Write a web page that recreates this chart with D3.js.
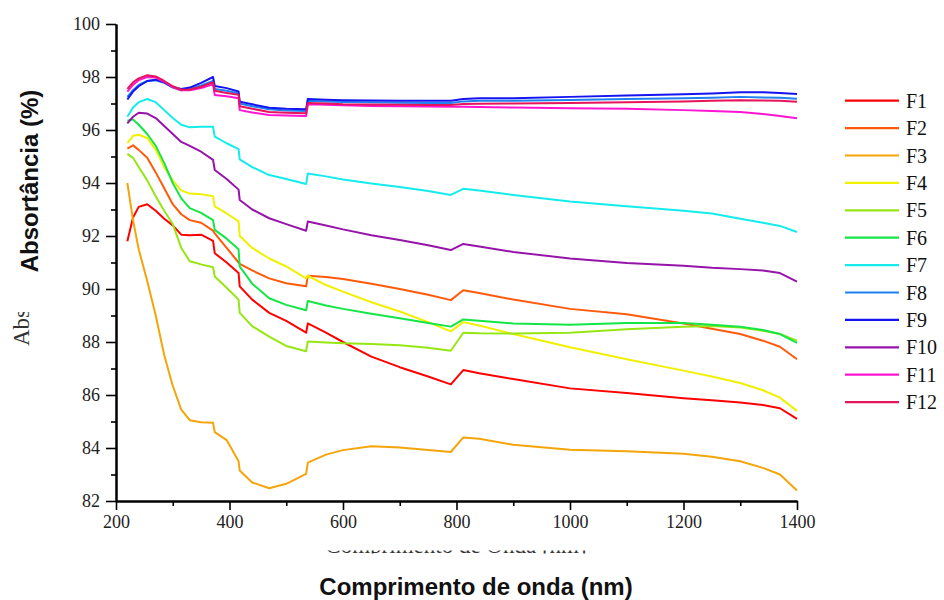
<!DOCTYPE html>
<html>
<head>
<meta charset="utf-8">
<script src="https://cdn.jsdelivr.net/npm/d3@7"></script>
<style>
  body { margin: 0; background: #fff; }
  svg { display: block; }
  .serif { font-family: "Liberation Serif", "Times New Roman", Times, serif; }
</style>
</head>
<body>
<div id="chart"></div>
<script>
// wavelength grid (nm) shared by all series
const wavelengths = [220, 230, 240, 255, 270, 285, 300, 315, 330, 350, 371, 374, 395, 416, 418, 440, 470, 500, 535, 538, 570, 600, 650, 700, 750, 790, 812, 840, 900, 1000, 1100, 1200, 1250, 1300, 1340, 1370, 1400];

const seriesNames = ["F1", "F2", "F3", "F4", "F5", "F6", "F7", "F8", "F9", "F10", "F11", "F12"];
const seriesColors = ["#ff0000", "#ff5a0a", "#f5a50a", "#f0f000", "#96e614", "#14e646", "#14ecec", "#1e82f0", "#1414f0", "#9614aa", "#ff14d2", "#e6145a"];

const f1 = [91.8, 92.7, 93.1, 93.2, 92.95, 92.65, 92.4, 92.05, 92.03, 92.05, 91.82, 91.35, 91.0, 90.6, 90.1, 89.6, 89.1, 88.8, 88.35, 88.7, 88.35, 88.0, 87.45, 87.05, 86.7, 86.4, 86.94, 86.82, 86.6, 86.25, 86.08, 85.88, 85.8, 85.72, 85.62, 85.5, 85.1];
const f2 = [95.3, 95.42, 95.25, 94.95, 94.4, 93.8, 93.2, 92.82, 92.6, 92.5, 92.2, 92.1, 91.55, 91.0, 90.95, 90.7, 90.4, 90.22, 90.1, 90.5, 90.45, 90.38, 90.2, 90.0, 89.78, 89.58, 89.95, 89.85, 89.6, 89.25, 89.05, 88.7, 88.5, 88.3, 88.05, 87.82, 87.35];
const f3 = [94.0, 92.6, 91.5, 90.3, 89.0, 87.5, 86.35, 85.45, 85.05, 84.97, 84.95, 84.6, 84.3, 83.5, 83.15, 82.7, 82.48, 82.65, 83.02, 83.45, 83.75, 83.92, 84.07, 84.02, 83.92, 83.85, 84.4, 84.35, 84.12, 83.93, 83.88, 83.78, 83.67, 83.5, 83.25, 83.0, 82.4];
const f4 = [95.5, 95.78, 95.82, 95.7, 95.25, 94.6, 94.1, 93.72, 93.6, 93.58, 93.5, 93.12, 92.85, 92.55, 92.0, 91.55, 91.15, 90.85, 90.4, 90.5, 90.15, 89.9, 89.5, 89.15, 88.75, 88.4, 88.75, 88.62, 88.3, 87.8, 87.35, 86.92, 86.7, 86.45, 86.18, 85.9, 85.4];
const f5 = [95.1, 94.95, 94.6, 94.1, 93.5, 92.95, 92.45, 91.55, 91.05, 90.93, 90.82, 90.47, 90.05, 89.6, 89.1, 88.6, 88.2, 87.85, 87.65, 88.02, 87.98, 87.95, 87.92, 87.88, 87.78, 87.67, 88.35, 88.33, 88.32, 88.35, 88.48, 88.58, 88.6, 88.55, 88.42, 88.3, 88.05];
const f6 = [96.35, 96.4, 96.2, 95.85, 95.4, 94.75, 94.0, 93.42, 93.05, 92.87, 92.6, 92.23, 91.9, 91.5, 90.85, 90.2, 89.65, 89.4, 89.2, 89.55, 89.38, 89.25, 89.07, 88.9, 88.72, 88.58, 88.85, 88.8, 88.7, 88.65, 88.72, 88.72, 88.65, 88.58, 88.45, 88.3, 87.97];
const f7 = [96.5, 96.85, 97.05, 97.17, 97.05, 96.75, 96.45, 96.2, 96.1, 96.12, 96.12, 95.75, 95.5, 95.28, 94.89, 94.6, 94.3, 94.15, 93.96, 94.36, 94.25, 94.13, 93.98, 93.85, 93.7, 93.55, 93.78, 93.72, 93.55, 93.3, 93.12, 92.95, 92.85, 92.65, 92.5, 92.38, 92.15];
const f8 = [97.25, 97.5, 97.7, 97.85, 97.88, 97.78, 97.6, 97.5, 97.55, 97.68, 97.85, 97.55, 97.48, 97.38, 97.0, 96.9, 96.78, 96.74, 96.72, 97.1, 97.08, 97.06, 97.05, 97.03, 97.02, 97.02, 97.08, 97.1, 97.1, 97.13, 97.17, 97.2, 97.22, 97.25, 97.23, 97.22, 97.18];
const f9 = [97.15, 97.45, 97.65, 97.85, 97.9, 97.8, 97.62, 97.55, 97.6, 97.78, 98.0, 97.66, 97.58, 97.45, 97.07, 96.97, 96.84, 96.8, 96.78, 97.17, 97.14, 97.12, 97.11, 97.1, 97.1, 97.1, 97.17, 97.2, 97.2, 97.25, 97.3, 97.35, 97.38, 97.42, 97.42, 97.4, 97.36];
const f10 = [96.25, 96.5, 96.65, 96.62, 96.45, 96.15, 95.85, 95.55, 95.4, 95.18, 94.87, 94.49, 94.15, 93.75, 93.36, 93.0, 92.67, 92.45, 92.2, 92.55, 92.4, 92.25, 92.03, 91.85, 91.65, 91.47, 91.7, 91.6, 91.4, 91.15, 90.98, 90.88, 90.8, 90.75, 90.7, 90.6, 90.28];
const f11 = [97.45, 97.7, 97.88, 98.0, 97.98, 97.82, 97.62, 97.5, 97.5, 97.58, 97.72, 97.32, 97.27, 97.2, 96.75, 96.66, 96.57, 96.55, 96.53, 96.97, 96.95, 96.93, 96.91, 96.9, 96.89, 96.88, 96.88, 96.87, 96.85, 96.82, 96.8, 96.75, 96.72, 96.68, 96.6, 96.53, 96.44];
const f12 = [97.55, 97.8, 97.95, 98.07, 98.02, 97.85, 97.65, 97.52, 97.53, 97.63, 97.8, 97.48, 97.4, 97.33, 96.9, 96.8, 96.68, 96.65, 96.63, 97.02, 97.0, 96.97, 96.96, 96.95, 96.94, 96.94, 96.98, 96.99, 97.0, 97.02, 97.05, 97.08, 97.1, 97.12, 97.11, 97.1, 97.07];

const allSeries = [f1, f2, f3, f4, f5, f6, f7, f8, f9, f10, f11, f12];

const xMajorTicks = [200, 400, 600, 800, 1000, 1200, 1400];
const xMinorTicks = [300, 500, 700, 900, 1100, 1300];
const yMajorTicks = [82, 84, 86, 88, 90, 92, 94, 96, 98, 100];
const yMinorTicks = [83, 85, 87, 89, 91, 93, 95, 97, 99];

const width = 944, height = 600;
const plotLeft = 116, plotRight = 797, plotTop = 24, plotBottom = 501;
const sans = "Liberation Sans, Arial, sans-serif";

const svg = d3.select("#chart").append("svg")
    .attr("width", width)
    .attr("height", height);

const x = d3.scaleLinear().domain([200, 1400]).range([plotLeft, plotRight]);
const y = d3.scaleLinear().domain([82, 100]).range([plotBottom, plotTop]);

// old titles of the figure, mostly covered, only small parts still show
const defs = svg.append("defs");
defs.append("clipPath").attr("id", "clipY")
    .append("rect").attr("x", 0).attr("y", 312).attr("width", 60).attr("height", 40);
defs.append("clipPath").attr("id", "clipX")
    .append("rect").attr("x", 200).attr("y", 550.5).attr("width", 500).attr("height", 3);

svg.append("g").attr("clip-path", "url(#clipY)")
    .append("text")
    .attr("class", "serif")
    .attr("transform", "translate(29,346) rotate(-90)")
    .attr("font-size", 23)
    .attr("fill", "#333")
    .text("Absortância [%]");

svg.append("g").attr("clip-path", "url(#clipX)")
    .append("text")
    .attr("class", "serif")
    .attr("x", 456).attr("y", 553)
    .attr("text-anchor", "middle")
    .attr("font-size", 23)
    .attr("fill", "#333")
    .text("Comprimento de Onda [nm]");

// axes
const xAxis = svg.append("g")
    .attr("transform", `translate(0,${plotBottom})`)
    .call(d3.axisBottom(x).tickValues(xMajorTicks).tickSize(9).tickSizeOuter(0).tickPadding(5).tickFormat(d3.format("d")));
svg.append("g")
    .attr("transform", `translate(0,${plotBottom})`)
    .call(d3.axisBottom(x).tickValues(xMinorTicks).tickSize(5).tickSizeOuter(0).tickFormat(""));

const yAxis = svg.append("g")
    .attr("transform", `translate(${plotLeft},0)`)
    .call(d3.axisLeft(y).tickValues(yMajorTicks).tickSize(10).tickSizeOuter(0).tickPadding(6).tickFormat(d3.format("d")));
svg.append("g")
    .attr("transform", `translate(${plotLeft},0)`)
    .call(d3.axisLeft(y).tickValues(yMinorTicks).tickSize(5).tickSizeOuter(0).tickFormat(""));

// d3 puts font-family="sans-serif" on the axis group, drop it
xAxis.attr("font-family", null).attr("font-size", null);
yAxis.attr("font-family", null).attr("font-size", null);

svg.selectAll(".domain").attr("stroke", "#000").attr("stroke-width", 2);
svg.selectAll(".tick line").attr("stroke", "#000").attr("stroke-width", 1.6);
svg.selectAll(".tick text")
    .attr("class", "serif")
    .attr("font-size", 18)
    .attr("fill", "#222");

// lines
const line = d3.line()
    .x((d, i) => x(wavelengths[i]))
    .y(d => y(d));

svg.append("g").selectAll("path")
    .data(allSeries)
    .enter().append("path")
    .attr("d", line)
    .attr("fill", "none")
    .attr("stroke", (d, i) => seriesColors[i])
    .attr("stroke-width", 2)
    .attr("stroke-linejoin", "round");

// legend
const legend = svg.append("g");
const row = legend.selectAll("g")
    .data(seriesNames)
    .enter().append("g")
    .attr("transform", (d, i) => `translate(845,${100.7 + i * 27.4})`);
row.append("line")
    .attr("x1", 0).attr("x2", 54)
    .attr("stroke", (d, i) => seriesColors[i])
    .attr("stroke-width", 2.2);
row.append("text")
    .attr("class", "serif")
    .attr("x", 61).attr("y", 7)
    .attr("font-size", 20)
    .attr("fill", "#111")
    .text(d => d);

// axis titles
svg.append("text")
    .attr("transform", "translate(38,181) rotate(-90)")
    .attr("text-anchor", "middle")
    .style("font-family", sans)
    .style("font-weight", "bold")
    .style("font-size", "24px")
    .style("fill", "#111")
    .text("Absortância (%)");

svg.append("text")
    .attr("x", 476).attr("y", 595)
    .attr("text-anchor", "middle")
    .style("font-family", sans)
    .style("font-weight", "bold")
    .style("font-size", "24px")
    .style("fill", "#111")
    .text("Comprimento de onda (nm)");
</script>
</body>
</html>
